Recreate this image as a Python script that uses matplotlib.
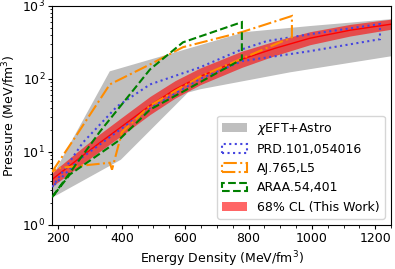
import numpy as np
import matplotlib.pyplot as plt
from matplotlib.ticker import AutoMinorLocator

# chiEFT+Astro band (upper / lower edges)
gray_up_x = [180, 362, 647, 789, 994, 1253]
gray_up_y = [4.6, 127, 290, 438, 530, 660]
gray_lo_x = [180, 397, 609, 647, 931, 1253]
gray_lo_y = [2.35, 7.8, 65, 72, 123, 205]

# PRD.101,054016
prd_up_x = [180, 277, 385, 489, 647, 779, 858, 994, 1215]
prd_up_y = [3.3, 13.4, 42, 84, 144, 254, 330, 410, 565]
prd_lo_x = [180, 268, 400, 489, 647, 779, 994, 1215]
prd_lo_y = [3.3, 8.0, 21, 40, 100, 175, 240, 350]

# AJ.765,L5
aj_up_x = [180, 252, 362, 489, 593, 779, 937]
aj_up_y = [5.35, 15.7, 84, 158, 272, 438, 728]
aj_lo_x = [180, 200, 246, 362, 369, 400, 489, 647, 779, 937]
aj_lo_y = [5.35, 6.0, 6.3, 7.1, 5.7, 18.5, 43, 108, 190, 372]

# ARAA.54,401
araa_up_x = [180, 331, 489, 593, 779]
araa_up_y = [2.4, 19, 135, 317, 600]
araa_lo_x = [180, 236, 385, 489, 593, 779]
araa_lo_y = [2.4, 4.9, 13.8, 38, 67, 186]

# 68% CL (this work)
cl_x = [179, 268, 331, 400, 489, 568, 647, 779, 884, 994, 1121, 1254]
cl_mid = [4.16, 8.35, 13.4, 22.3, 43.2, 71.8, 108, 186, 263, 361, 465, 565]
cl_lo = [3.34, 6.48, 10.2, 16.8, 32.5, 54.5, 83, 144, 209, 294, 387, 482]
cl_hi = [5.19, 10.75, 17.7, 29.7, 57.5, 94.6, 141, 240, 331, 443, 559, 662]


def poly(ux, uy, lx, ly):
    return list(ux) + list(lx)[::-1], list(uy) + list(ly)[::-1]


fig, ax = plt.subplots(figsize=(3.95, 2.69), dpi=100)
fig.subplots_adjust(left=0.132, right=0.99, bottom=0.164, top=0.978)

px, py = poly(gray_up_x, gray_up_y, gray_lo_x, gray_lo_y)
ax.fill(px, py, color='gray', alpha=0.5, lw=0, label=r'$\chi$EFT+Astro')

ax.fill_between(cl_x, cl_lo, cl_hi, color='red', alpha=0.6, lw=0,
                label='68% CL (This Work)', zorder=2)
ax.plot(cl_x, cl_mid, color='red', lw=1, zorder=2)

px, py = poly(prd_up_x, prd_up_y, prd_lo_x, prd_lo_y)
ax.fill(px, py, facecolor='none', edgecolor='#4545e0', ls=':', lw=1.5,
        label='PRD.101,054016', zorder=3)

px, py = poly(aj_up_x, aj_up_y, aj_lo_x, aj_lo_y)
ax.fill(px, py, facecolor='none', edgecolor='darkorange', ls='-.', lw=1.5,
        label='AJ.765,L5', zorder=3)

px, py = poly(araa_up_x, araa_up_y, araa_lo_x, araa_lo_y)
ax.fill(px, py, facecolor='none', edgecolor='green', ls='--', lw=1.5,
        label='ARAA.54,401', zorder=3)

ax.set_yscale('log')
ax.set_xlim(180, 1250)
ax.set_ylim(1, 1000)
ax.xaxis.set_minor_locator(AutoMinorLocator(4))
ax.tick_params(which='major', labelsize=9, length=3, pad=2)
ax.tick_params(which='minor', length=1.8)
ax.set_xlabel('Energy Density (MeV/fm$^3$)', fontsize=9, labelpad=3)
ax.set_ylabel('Pressure (MeV/fm$^3$)', fontsize=9, labelpad=3)

handles, labels = ax.get_legend_handles_labels()
order = [0, 2, 3, 4, 1]
ax.legend([handles[i] for i in order], [labels[i] for i in order],
          loc='lower right', fontsize=9)

plt.savefig('out.png')
